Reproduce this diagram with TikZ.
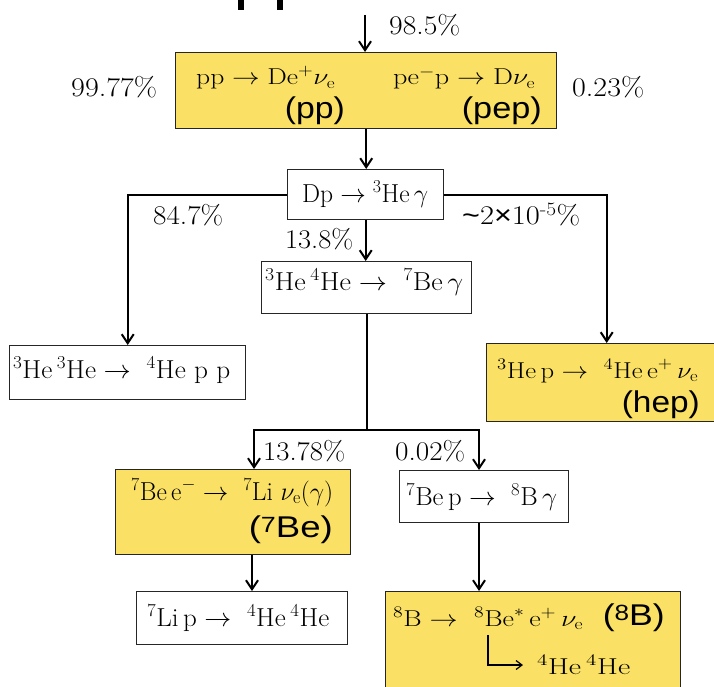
\RequirePackage{fix-cm}
\documentclass[tikz,border=0pt]{standalone}
\usepackage{fontspec}
\newfontfamily\ari{Liberation Sans}
\usetikzlibrary{arrows.meta}
\definecolor{gold}{RGB}{250,224,100}
\newcommand{\fw}[2]{\resizebox{#1pt}{\height}{#2}}
\newcommand{\smnum}[1]{{\fontsize{22}{22}\selectfont\raisebox{5pt}{#1}}}
\begin{document}
\begin{tikzpicture}[x=1pt,y=-1pt,
  box/.style={draw=black!85,line width=1.4pt,inner sep=0pt,anchor=north west},
  goldbox/.style={box,fill=gold},
  rx/.style={inner sep=0pt,font=\fontsize{23}{27}\selectfont},
  rxl/.style={inner sep=0pt,font=\fontsize{26}{30}\selectfont},
  pct/.style={inner sep=0pt,font=\rmfamily\fontsize{27}{32}\selectfont},
  tagtxt/.style={inner sep=0pt,font=\ari\fontsize{30}{34}\selectfont},
  conn/.style={line width=2pt},
  arr/.style={conn,-{Straight Barb[length=9pt,width=12pt,line width=2pt]}},
  hookarr/.style={line width=1.2pt,-{Straight Barb[length=6pt,width=9pt,line width=1.2pt]}}]
\useasboundingbox (0,0) rectangle (714,687);
\begin{scope}
\clip (0,0) rectangle (714,687);
% cut-off title fragments
\fill (238,0) rectangle (244,10);
\fill (277,0) rectangle (283,10);
% boxes
\node[goldbox,minimum width=381pt,minimum height=76pt] (pp) at (175,52) {};
\node[box,minimum width=156pt,minimum height=50pt] (dp) at (287,169) {};
\node[box,minimum width=210pt,minimum height=52pt] (hefour) at (261,261) {};
\node[box,minimum width=236pt,minimum height=54pt] (hethree) at (9,345) {};
\node[goldbox,minimum width=240pt,minimum height=78pt] (hep) at (486,343) {};
\node[goldbox,minimum width=235pt,minimum height=85pt] (beseven) at (115,469) {};
\node[box,minimum width=169pt,minimum height=52pt] (bep) at (399,470) {};
\node[box,minimum width=211pt,minimum height=53pt] (lip) at (136,591) {};
\node[goldbox,minimum width=295pt,minimum height=110pt] (beight) at (385,591) {};
% texts
\node[rx,anchor=base west] (tpp) at (196,85) {\fw{139}{$\mathrm{pp}\rightarrow\mathrm{De}^{+}\nu_{\mathrm{e}}$}};
\node[tagtxt,anchor=base east] (lpp) at (345,119) {\fw{60}{(pp)}};
\node[rx,anchor=base west] (tpep) at (393,85) {\fw{142}{$\mathrm{pe}^{-}\mathrm{p}\rightarrow\mathrm{D}\nu_{\mathrm{e}}$}};
\node[tagtxt,anchor=base east] (lpep) at (542,119) {\fw{80}{(pep)}};
\node[rxl,anchor=base west] (tdp) at (302,202) {\fw{126}{$\mathrm{Dp}\rightarrow{}^{3}\mathrm{He}\,\gamma$}};
\node[rxl,anchor=base west] (thefour) at (265,290) {\fw{198}{${}^{3}\mathrm{He}\,{}^{4}\mathrm{He}\rightarrow\ {}^{7}\mathrm{Be}\,\gamma$}};
\node[rxl,anchor=base west] (thethree) at (13,378) {\fw{217}{${}^{3}\mathrm{He}\,{}^{3}\mathrm{He}\rightarrow\ {}^{4}\mathrm{He}\ \mathrm{p}\ \mathrm{p}$}};
\node[rx,anchor=base west] (thep) at (497,378) {\fw{201}{${}^{3}\mathrm{He\,p}\rightarrow\ {}^{4}\mathrm{He\,e}^{+}\,\nu_{\mathrm{e}}$}};
\node[tagtxt,anchor=base east] (lhep) at (700,412) {\fw{78}{(hep)}};
\node[rxl,anchor=base west] (tbeseven) at (131,500) {\fw{202}{${}^{7}\mathrm{Be\,e}^{-}\rightarrow\ {}^{7}\mathrm{Li}\ \nu_{\mathrm{e}}(\gamma)$}};
\node[tagtxt,anchor=base east] (lbeseven) at (333,537) {\fw{84}{(\smnum{7}Be)}};
\node[rxl,anchor=base west] (tbep) at (406,505) {\fw{151}{${}^{7}\mathrm{Be\,p}\rightarrow\ {}^{8}\mathrm{B}\,\gamma$}};
\node[rxl,anchor=base west] (tlip) at (147,626) {\fw{182}{${}^{7}\mathrm{Li\,p}\rightarrow\ {}^{4}\mathrm{He}\,{}^{4}\mathrm{He}$}};
\node[rx,anchor=base west] (tbeight) at (393,626) {\fw{190}{${}^{8}\mathrm{B}\rightarrow\ {}^{8}\mathrm{Be}^{*}\,\mathrm{e}^{+}\,\nu_{\mathrm{e}}$}};
\node[tagtxt,anchor=base east] (lbeight) at (665,625) {\fw{62}{(\smnum{8}B)}};
\node[rx,anchor=base west] (tfour) at (537,674) {\fw{93}{${}^{4}\mathrm{He}\,{}^{4}\mathrm{He}$}};
% percentages
\node[pct,anchor=base west] (p985) at (389,35) {\fw{71}{98.5\%}};
\node[pct,anchor=base west] (p9977) at (71,97) {\fw{86}{99.77\%}};
\node[pct,anchor=base west] (p023) at (572,97) {\fw{72}{0.23\%}};
\node[pct,anchor=base west] (p847) at (153,225) {\fw{70}{84.7\%}};
\node[pct,anchor=base west] (phep) at (462,225) {\fw{118}{{\ari\raisebox{1pt}{\textasciitilde}}2{\ari ×}10\textsuperscript{-5}\%}};
\node[pct,anchor=base west] (p138) at (285,248) {\fw{68}{13.8\%}};
\node[pct,anchor=base west] (p1378) at (263,460) {\fw{82}{13.78\%}};
\node[pct,anchor=base west] (p002) at (395,460) {\fw{70}{0.02\%}};
% connectors
\coordinate (top) at (365,15);
\draw[arr] (top) -- (top |- pp.north);
\draw[arr] (pp.south) -- (pp.south |- dp.north);
\draw[arr] (dp.south) -- (dp.south |- hefour.north);
\draw[arr] (dp.west) -| (hethree.north);
\draw[arr] (dp.east) -| (hep.north);
\coordinate (jl) at (254,430);
\coordinate (jr) at (479,430);
\draw[arr] (hefour.south) |- (jl) -- (jl |- beseven.north);
\draw[arr] (hefour.south |- jr) -- (jr) -- (jr |- bep.north);
\coordinate (cl) at (252,560);
\draw[arr] (cl |- beseven.south) -- (cl |- lip.north);
\draw[arr] (jr |- bep.south) -- (jr |- beight.north);
\coordinate (h1) at (488,635);
\coordinate (h2) at (488,665);
\coordinate (h3) at (523,665);
\draw[hookarr] (h1) -- (h2) -- (h3);
\end{scope}
\end{tikzpicture}
\end{document}
